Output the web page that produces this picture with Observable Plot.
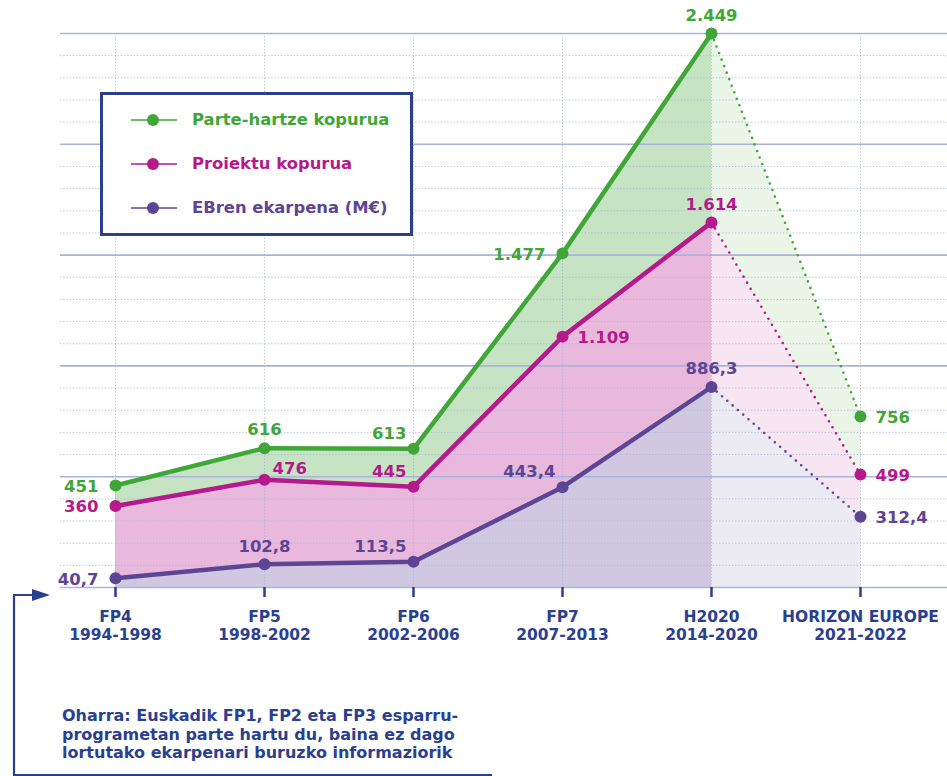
<!DOCTYPE html>
<html><head><meta charset="utf-8">
<script src="https://cdn.jsdelivr.net/npm/d3@7"></script>
<script src="https://cdn.jsdelivr.net/npm/@observablehq/plot@0.6"></script>
<style>
body{margin:0;background:#fff;font-family:"DejaVu Sans",sans-serif;}
#wrap{position:relative;width:947px;height:776px;overflow:hidden;background:#fff}
#chart{position:absolute;left:0;top:0}
#legend{position:absolute;left:100px;top:92px;width:307px;height:138px;border:3px solid #2b3f8f;background:#fff;box-sizing:content-box}
.lg{position:absolute;left:28px;display:flex;align-items:center;font-size:16.4px;font-weight:700;white-space:nowrap}
.lg svg{margin-right:15px}
#note{position:absolute;left:62px;top:707px;font-size:16px;font-weight:700;line-height:18.5px;color:#2b3f8f}
#bracket{position:absolute;left:0;top:0}
</style></head><body>
<div id="wrap">
  <div id="chart"></div>
  <div id="legend"></div>
  <svg id="bracket" width="947" height="776"></svg>
  <div id="note">Oharra: Euskadik FP1, FP2 eta FP3 esparru-<br>programetan parte hartu du, baina ez dago<br>lortutako ekarpenari buruzko informaziorik</div>
</div>
<script>
// ---- data ----
const programmes = ["FP4", "FP5", "FP6", "FP7", "H2020", "HORIZON EUROPE"];
const periods = ["1994-1998", "1998-2002", "2002-2006", "2007-2013", "2014-2020", "2021-2022"];
const seriesNames = ["Parte-hartze kopurua", "Proiektu kopurua", "EBren ekarpena (M€)"];
const participations = [451, 616, 613, 1477, 2449, 756];
const projects = [360, 476, 445, 1109, 1614, 499];
const contribution = [40.7, 102.8, 113.5, 443.4, 886.3, 312.4];

// ---- styling (not data) ----
const styles = [
  {values: participations, color: "#3fa637", fill: "#c6e4c4", fillLight: "#eaf5e8",
   place: ["left", "top", "topLeft", "left", "top", "right"]},
  {values: projects, color: "#b5198b", fill: "#e8b9dd", fillLight: "#f7e5f2",
   place: ["left", "topRight", "topLeft", "right", "top", "right"]},
  {values: contribution, color: "#5e4594", fill: "#d0c8e0", fillLight: "#ecebf3",
   place: ["left", "top", "topLeft", "topLeft", "top", "right"]}
];
const placements = {
  left: {textAnchor: "end", dx: -17, dy: 1},
  top: {textAnchor: "middle", dx: 0, dy: -18},
  topRight: {textAnchor: "start", dx: 8, dy: -11},
  topLeft: {textAnchor: "end", dx: -7, dy: -15},
  right: {textAnchor: "start", dx: 15, dy: 1}
};
const blue = "#2b3f8f";
const grid = "#aab3dc";
const font = "'DejaVu Sans', sans-serif";

const locale = d3.formatLocale({decimal: ",", thousands: ".", grouping: [3], currency: ["", "€"]});
const fmtInt = locale.format(",d"), fmtDec = locale.format(",.1f");
const fmt = v => Number.isInteger(v) ? fmtInt(v) : fmtDec(v);

const rowsFor = (s, i) => s.values.map((v, j) => ({series: seriesNames[i], prog: programmes[j], value: v, j, place: s.place[j]}));
const last = programmes.length - 1;
const gridVals = d3.range(0, 26).map(k => k * 2449 / 25);

const marks = [];
styles.forEach((s, i) => {
  marks.push(Plot.areaY(rowsFor(s, i).filter(d => d.j <= last - 1), {x: "prog", y: "value", fill: s.fill}));
});
styles.forEach((s, i) => {
  marks.push(Plot.areaY(rowsFor(s, i).filter(d => d.j >= last - 1), {x: "prog", y: "value", fill: s.fillLight}));
});
marks.push(Plot.ruleY(gridVals.filter((v, k) => k % 5 !== 0), {stroke: grid, strokeWidth: 1, strokeDasharray: "1.2,2", strokeOpacity: 0.9}));
marks.push(Plot.ruleX(programmes, {stroke: grid, strokeWidth: 1, strokeDasharray: "1.2,2", strokeOpacity: 0.9}));
marks.push(Plot.ruleY(gridVals.filter((v, k) => k % 5 === 0), {stroke: grid, strokeWidth: 1.6}));
styles.forEach((s, i) => {
  const rows = rowsFor(s, i);
  marks.push(Plot.line(rows.filter(d => d.j >= last - 1), {x: "prog", y: "value", stroke: s.color, strokeWidth: 2.6, strokeDasharray: "0,7", strokeLinecap: "round"}));
  marks.push(Plot.line(rows.filter(d => d.j <= last - 1), {x: "prog", y: "value", stroke: s.color, strokeWidth: 4.5, strokeLinejoin: "round"}));
  marks.push(Plot.dot(rows, {x: "prog", y: "value", r: 6, fill: s.color}));
  for (const [key, p] of Object.entries(placements)) {
    const sub = rows.filter(d => d.place === key);
    if (sub.length) marks.push(Plot.text(sub, {x: "prog", y: "value", text: d => fmt(d.value), fill: s.color,
      fontSize: 16.5, fontWeight: 700, ...p}));
  }
});
marks.push(Plot.axisX({tickSize: 10, tickPadding: 11, fontSize: 15.5, fontWeight: 700, strokeWidth: 2.5,
  tickFormat: d => d + "\n" + periods[programmes.indexOf(d)], lineHeight: 1.18, label: null}));

const chart = Plot.plot({
  width: 947, height: 660,
  marginLeft: 60, marginRight: 0, marginTop: 33, marginBottom: 73,
  x: {type: "point", domain: programmes, range: [114, 860], padding: 0},
  y: {domain: [0, 2449], axis: null},
  style: {color: blue, fontFamily: font, background: "transparent", overflow: "visible"},
  marks
});
document.getElementById("chart").appendChild(chart);

// legend
const legend = document.getElementById("legend");
styles.forEach((s, i) => {
  const div = document.createElement("div");
  div.className = "lg";
  div.style.top = (15 + i * 44) + "px";
  div.style.color = s.color;
  div.innerHTML = `<svg width="46" height="14"><line x1="0" x2="46" y1="7" y2="7" stroke="${s.color}" stroke-width="1.6"/><circle cx="22" cy="7" r="6" fill="${s.color}"/></svg>${seriesNames[i]}`;
  legend.appendChild(div);
});

// bracket arrow
document.getElementById("bracket").innerHTML =
  `<path d="M14,775 V595 H36" fill="none" stroke="${blue}" stroke-width="2.2"/>
   <path d="M32,589 L50,595 L32,601 Z" fill="${blue}"/>
   <path d="M13,775 H492" fill="none" stroke="${blue}" stroke-width="2.2"/>`;
</script>
</body></html>
